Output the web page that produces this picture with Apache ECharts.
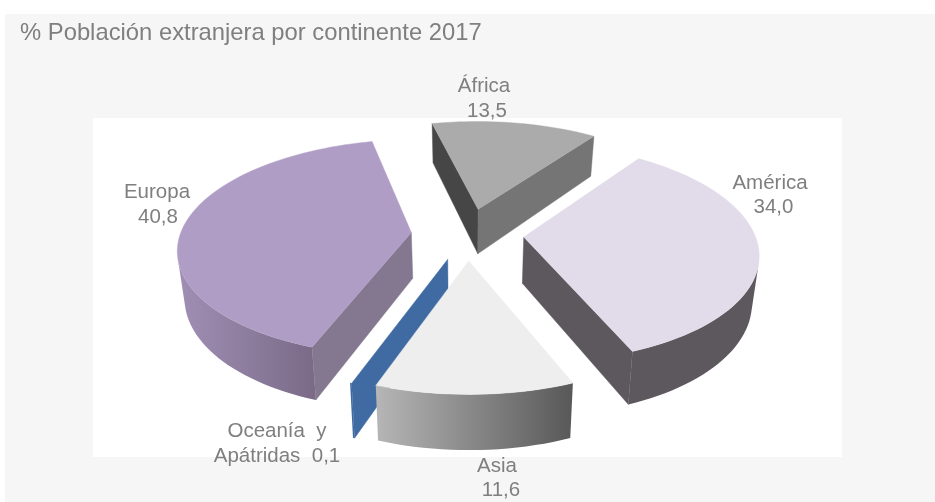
<!DOCTYPE html>
<html><head><meta charset="utf-8">
<style>html,body{margin:0;padding:0;background:#fff}#c{width:935px;height:502px}</style>
<script src="https://cdn.jsdelivr.net/npm/echarts@6/dist/echarts.min.js"></script>
</head><body><div id="c"></div>
<script>
const categories = ['África', 'América', 'Asia', 'Oceanía  y', 'Europa'];
const values = [13.5, 34.0, 11.6, 0.1, 40.8];
const chartTitle = '% Población extranjera por continente 2017';

// Look of each slice, same order as the categories
const topColors = ['#ababab', '#e2dcea', '#eeeeee', '#3f6aa2', '#b09dc5'];
const startCutColors = ['#464646', '#5d585e', '#6e6e6e', '#3f6aa2', '#837890'];
const endCutColors = ['#757575', '#5d585e', '#6e6e6e', '#3f6aa2', '#837890'];
const wallColors = [['#777', '#777'], ['#5d585e', '#5d585e'], ['#b6b6b6', '#585858'], ['#3f6aa2', '#3f6aa2'], ['#a08fb4', '#7a6a87']];
const nameCenters = [[484, 86], [770, 183], [497, 466], [277, 431], [157, 192]];
const valueCenters = [[487, 111], [773.5, 207], [501, 490], [277, 456], [158, 217]];

// Projection of the tilted, exploded pie
const cx = 467.5, cy = 234, Rx = 231, Ry = 106.5, persp = 0.14, explode = 0.244, depth = 46, startDeg = -13.1, baseShrink = 0.025;
const total = values.reduce((a, b) => a + b, 0);
const labelFont = '20.5px "Liberation Sans", Arial, sans-serif';

function project(u, v, z) {
  const s = 1 / (1 - persp * v);
  return [cx + Rx * u * s * (1 - baseShrink * z), cy + Ry * v * s + z * depth * s];
}
function fmt(v) { return v.toFixed(1).replace('.', ','); }

function renderSlice(params, api) {
  const i = params.dataIndex;
  let before = 0;
  for (let k = 0; k < i; k++) before += values[k];
  const a0 = (startDeg + before / total * 360) * Math.PI / 180;
  const a1 = a0 + api.value(0) / total * 2 * Math.PI;
  const mid = (a0 + a1) / 2;
  const ou = explode * Math.sin(mid), ov = -explode * Math.cos(mid);
  const onRim = (a, z) => project(ou + Math.sin(a), ov - Math.cos(a), z);
  const apexT = project(ou, ov, 0), apexB = project(ou, ov, 1);
  const steps = Math.max(2, Math.ceil((a1 - a0) / (Math.PI / 90)));
  const topRim = [], angles = [];
  for (let k = 0; k <= steps; k++) {
    const a = a0 + (a1 - a0) * k / steps;
    angles.push(a);
    topRim.push(onRim(a, 0));
  }
  const children = [];
  const layer = i === 3 ? 1 : 2; // the thin slice sits behind its neighbour
  const poly = (points, fill) => children.push({
    type: 'polygon', z2: layer, shape: { points },
    style: { fill, stroke: typeof fill === 'string' ? fill : null, lineWidth: 0.4 }
  });
  const cross = (p, q, r) => (q[0] - p[0]) * (r[1] - q[1]) - (q[1] - p[1]) * (r[0] - q[0]);

  // cut faces
  const s0T = onRim(a0, 0), s0B = onRim(a0, 1), s1T = onRim(a1, 0), s1B = onRim(a1, 1);
  if (cross(apexT, s0T, s0B) < 0) poly([apexT, s0T, s0B, apexB], startCutColors[i]);
  if (cross(apexT, s1T, s1B) > 0) poly([apexT, s1T, s1B, apexB], endCutColors[i]);

  // visible part of the outer wall
  const up = [], down = [];
  for (let k = 0; k < steps; k++) {
    const p = onRim(angles[k], 0), q = onRim(angles[k + 1], 0), r = onRim(angles[k + 1], 1);
    if (cross(p, q, r) < 0) {
      if (!up.length) { up.push(p); down.push(onRim(angles[k], 1)); }
      up.push(q); down.push(r);
    }
  }
  if (up.length) {
    poly(up.concat(down.reverse()), {
      type: 'linear', x: 0, y: 0, x2: 1, y2: 0,
      colorStops: [{ offset: 0, color: wallColors[i][0] }, { offset: 1, color: wallColors[i][1] }]
    });
  }
  // top face
  if (api.value(0) / total > 0.01) poly([apexT].concat(topRim), topColors[i]);

  // label, two lines
  const line = (text, c) => children.push({
    type: 'text', x: c[0], y: c[1], z2: 10,
    style: { text, fill: '#7f7f7f', font: labelFont, align: 'center', verticalAlign: 'middle' }
  });
  line(categories[i], nameCenters[i]);
  line(i === 3 ? 'Apátridas  ' + fmt(values[i]) : fmt(values[i]), valueCenters[i]);
  return { type: 'group', children };
}

const chart = echarts.init(document.getElementById('c'), null, { renderer: 'canvas' });
chart.setOption({
  animation: false,
  backgroundColor: '#ffffff',
  title: {
    text: chartTitle, left: 15, top: 16,
    textStyle: { color: '#7f7f7f', fontSize: 23.8, fontWeight: 'normal', fontFamily: '"Liberation Sans", Arial, sans-serif' }
  },
  graphic: [
    { type: 'rect', z: -10, shape: { x: 5, y: 14, width: 930, height: 488 }, style: { fill: '#f6f6f6' } },
    { type: 'rect', z: -9, shape: { x: 93, y: 118, width: 749, height: 339 }, style: { fill: '#ffffff' } }
  ],
  series: [{
    type: 'custom', coordinateSystem: 'none', silent: true,
    renderItem: renderSlice,
    data: values.map(v => [v])
  }]
});
</script></body></html>
